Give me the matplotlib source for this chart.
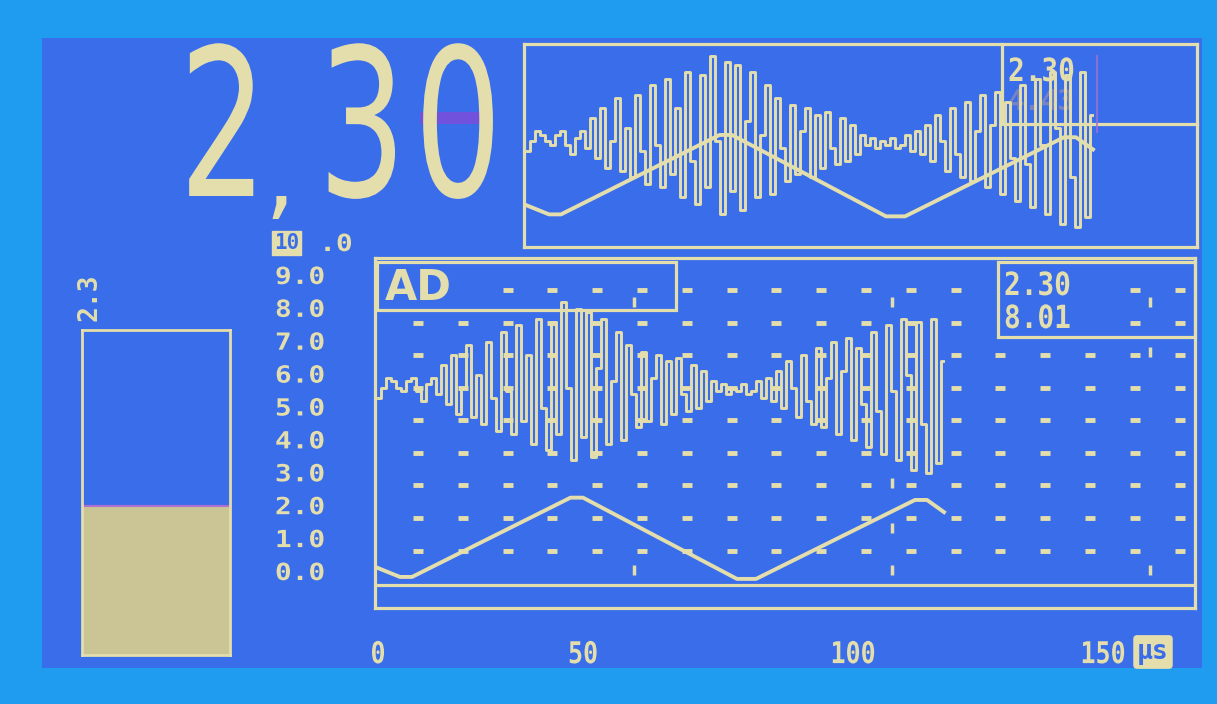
# LCD oscilloscope screen: big readout, level bar and two AD traces

import numpy as np
import matplotlib
matplotlib.use('Agg')
import matplotlib.pyplot as plt
import matplotlib.patches as mpatches
from matplotlib.patheffects import AbstractPathEffect
from matplotlib.transforms import Affine2D

W, H = 1217, 704

# colours of the screen
OUTER = '#1f9cf0'
SCREEN = '#3a6dea'
INK = '#e3deab'
BAR_FILL = '#cbc595'
GHOST = '#7052dc'

# ---- data ----
# AD channel, one sample per µs
ad_signal = [
    5.3, 5.6, 5.9, 5.8, 5.6, 5.5, 5.8, 5.9, 5.5, 5.2, 5.7, 5.9, 5.4,
    6.3, 5.1, 6.6, 4.8,
    5.6, 6.9, 4.7, 6.0, 4.5, 7.0, 5.3,
    4.3, 7.3, 5.5, 4.2, 7.5, 4.6, 6.6,
    3.9, 7.7, 5.0, 3.7, 7.6, 4.2,
    8.2, 5.6, 3.4, 8.0, 4.1,
    7.9, 3.5, 6.2, 7.7, 3.9,
    5.8, 7.3, 4.0, 6.9, 5.4, 4.4,
    6.7, 4.6, 5.9, 6.6, 4.5, 6.4,
    4.8, 6.5, 5.4, 4.9, 6.3, 5.0, 6.1,
    5.2, 5.8, 5.5, 5.7, 5.4, 5.6, 5.5, 5.7, 5.4, 5.5, 5.8, 5.3, 5.9, 5.2, 6.1,
    5.0, 6.4, 5.6, 4.7, 6.6, 5.2, 4.5, 6.8,
    4.4, 5.9, 7.0, 4.2, 6.1, 7.1, 4.0, 6.8, 5.1,
    3.8, 7.3, 4.9, 3.6, 7.5, 5.5,
    3.4, 7.7, 6.0, 3.1, 7.6, 4.5, 3.0, 7.7, 3.3,
    6.4]
ad_time = np.arange(len(ad_signal))

# triangle channel, corner points (µs, value)
tri_time = [0, 4.4, 6.8, 38.5, 41.0, 71.8, 75.6, 107.4, 109.8, 113.2]
tri_value = [0.12, -0.15, -0.15, 2.26, 2.26, -0.21, -0.21, 2.19, 2.19, 1.82]

y_ticks = list(range(0, 11))
y_labels = ['%d.0' % v for v in y_ticks]
x_tick_pos = [0, 41, 95, 145]
x_tick_labels = ['0', '50', '100', '150']

big_readout = '2,30'
box_values = ['2.30', '8.01']
top_value = '2.30'
top_ghost = '4.43'
bar_label = '2.3'
bar_level = 2.3
bar_max = 5.0


class Stretch(AbstractPathEffect):
    # scale glyphs around their baseline anchor (LCD fonts are tall and narrow)
    def __init__(self, sx=1.0, sy=1.0):
        super().__init__()
        self.sx, self.sy = sx, sy

    def draw_path(self, renderer, gc, tpath, affine, rgbFace=None):
        m = affine.get_matrix()
        x0, y0 = m[0, 2], m[1, 2]
        affine = affine + Affine2D().translate(-x0, -y0).scale(self.sx, self.sy).translate(x0, y0)
        renderer.draw_path(gc, tpath, affine, rgbFace)


fig = plt.figure(figsize=(W / 100, H / 100), dpi=100, facecolor=OUTER)


def px_axes(x0, y0, x1, y1):
    return fig.add_axes([x0 / W, 1 - y1 / H, (x1 - x0) / W, (y1 - y0) / H])


def lcd_frame(ax, lw=2.3):
    ax.set_facecolor('none')
    for s in ax.spines.values():
        s.set_color(INK)
        s.set_linewidth(lw)
    ax.tick_params(length=0)
    ax.set_xticks([])
    ax.set_yticks([])


# background and screen area in pixel coords
bg = fig.add_axes([0, 0, 1, 1])
bg.set_xlim(0, W)
bg.set_ylim(H, 0)
bg.axis('off')
bg.add_patch(mpatches.Rectangle((42, 38), 1160, 630, facecolor=SCREEN, edgecolor='none'))

# big readout, one glyph per LCD cell
bg.add_patch(mpatches.Rectangle((420, 112), 72, 12, facecolor=GHOST, edgecolor='none'))
for ch, cx in zip(big_readout, [221, 280, 360, 456]):
    if ch == ',':
        bg.text(cx, 208, ch, color=INK, family='DejaVu Sans', fontsize=70,
                ha='center', va='baseline')
    else:
        bg.text(cx, 196, ch, color=INK, family='DejaVu Sans', fontsize=95,
                ha='center', va='baseline', path_effects=[Stretch(sx=1.05, sy=1.56)])

# boxes drawn on the screen
bg.add_patch(mpatches.Rectangle((377, 262), 299, 48, fill=False, edgecolor=INK, lw=2.3))
bg.add_patch(mpatches.Rectangle((998, 262), 197, 75, fill=False, edgecolor=INK, lw=2.3))
bg.plot([1002, 1002, 1197], [44, 124, 124], color=INK, lw=2.3)
bg.plot([1097, 1097], [56, 132], color='#a070d0', lw=1.5, alpha=0.8)

lcd_font = dict(family='DejaVu Sans Mono', fontweight='bold', color=INK)
bg.text(385, 300, 'AD', family='DejaVu Sans', fontweight='bold', color=INK,
        fontsize=30, ha='left', va='baseline')
for val, yb in zip(box_values, [295, 328]):
    bg.text(1004, yb, val, fontsize=20, ha='left', va='baseline',
            path_effects=[Stretch(sy=1.15)], **lcd_font)
bg.text(1008, 81, top_value, fontsize=20, ha='left', va='baseline',
        path_effects=[Stretch(sy=1.15)], **lcd_font)
bg.text(1008, 110, top_ghost, fontsize=20, ha='left', va='baseline',
        family='DejaVu Sans Mono', fontweight='bold', color='#c8a090', alpha=0.45)

# rotated bar label and unit box
bg.text(90, 297, bar_label, rotation=90, fontsize=19, ha='center', va='center', **lcd_font)
bg.text(1153, 652, 'µs', fontsize=19, ha='center', va='center', family='DejaVu Sans Mono',
        fontweight='bold', color=SCREEN,
        bbox=dict(boxstyle='round,pad=0.12', facecolor=INK, edgecolor=INK))

# level bar
bar_ax = px_axes(82, 330, 230, 655)
lcd_frame(bar_ax, lw=2.0)
bar_ax.set_xlim(-0.5, 0.5)
bar_ax.set_ylim(0, bar_max)
bar_ax.bar([0], [bar_level], width=1.0, color=BAR_FILL)
bar_ax.axhline(bar_level, color='#b070d0', lw=1.5)

# main trace window
ax = px_axes(375, 258, 1195, 608)
lcd_frame(ax)
ax.set_xlim(-0.6, 163.4)
ax.set_ylim(-1.094, 9.544)
ax.axhline(-0.4, color=INK, lw=2.3)

# dotted grid: short dashes on a lattice
gx = 8 + 8.96 * np.arange(18)
gy = 0.65 + 0.99 * np.arange(9)
for yv in gy:
    xs = gx
    if yv > 8:
        xs = gx[gx > 20]
    if yv > 7:
        xs = xs[(xs < 120) | (xs > 145)]
    ax.plot(xs, [yv] * len(xs), ls='none', marker='_', ms=7, mew=3.5, color=INK)

# cursor tick marks
for cx in [51.2, 102.8, 154.4]:
    ax.plot([cx, cx], [8.2, 0.05], ls='none', marker='|', ms=7, mew=2.5, color=INK)
ax.plot([102.8, 102.8, 154.4], [2.7, 1.35, 6.7], ls='none', marker='|', ms=7, mew=2.5, color=INK)

ax.plot(ad_time, ad_signal, drawstyle='steps-mid', color=INK, lw=2.1)
ax.plot(tri_time, tri_value, color=INK, lw=2.8)

# axis labels, LCD style
ytr = ax.get_yaxis_transform()
for v, lab in zip(y_ticks, y_labels):
    if v == 10:
        ax.text(-0.123, v, '10', transform=ytr, ha='left', va='center', fontsize=15,
                family='DejaVu Sans Mono', fontweight='bold', color=SCREEN, clip_on=False,
                bbox=dict(boxstyle='square,pad=0.1', facecolor=INK, edgecolor=INK))
        ax.text(-0.068, v, '.0', transform=ytr, ha='left', va='center', fontsize=20,
                clip_on=False, path_effects=[Stretch(sy=0.85)], **lcd_font)
    else:
        ax.text(-0.122, v, lab, transform=ytr, ha='left', va='center', fontsize=20,
                clip_on=False, path_effects=[Stretch(sy=0.85)], **lcd_font)

ax.set_xticks(x_tick_pos, x_tick_labels)
ax.tick_params(axis='x', length=0, pad=26, labelsize=18, labelcolor=INK)
for t in ax.get_xticklabels():
    t.set_family('DejaVu Sans Mono')
    t.set_fontweight('bold')
    t.set_path_effects([Stretch(sy=1.2)])

# top trace window (same channels, triangle shifted up)
top = px_axes(524, 44, 1197, 247)
lcd_frame(top)
top.set_xlim(-0.6, 134)
top.set_ylim(2.39, 8.55)
top.plot(ad_time, ad_signal, drawstyle='steps-mid', color=INK, lw=2.1)
top.plot(tri_time, np.array(tri_value) + 3.53, color=INK, lw=2.8)

fig.savefig('out.png', dpi=100, facecolor=OUTER)
